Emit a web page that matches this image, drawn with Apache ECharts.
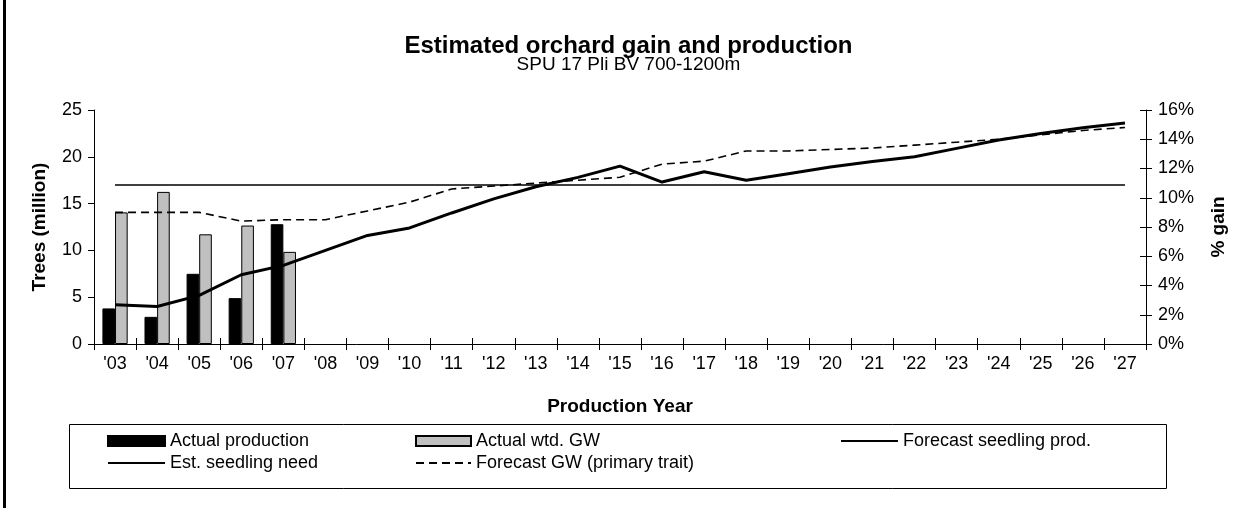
<!DOCTYPE html>
<html>
<head>
<meta charset="utf-8">
<title>Estimated orchard gain and production</title>
<script src="https://cdn.jsdelivr.net/npm/echarts@6/dist/echarts.min.js"></script>
<style>
  html, body { margin: 0; padding: 0; background: #fff; }
  #chart { width: 1257px; height: 508px; }
</style>
</head>
<body>
<div id="chart"></div>
<script>
// data
const years = ["'03", "'04", "'05", "'06", "'07", "'08", "'09", "'10", "'11", "'12", "'13", "'14", "'15",
  "'16", "'17", "'18", "'19", "'20", "'21", "'22", "'23", "'24", "'25", "'26", "'27"]
const actualProduction = [3.8, 2.9, 7.5, 4.9, 12.8]            // trees (million)
const actualGW = [9.0, 10.4, 7.5, 8.1, 6.3]                   // % gain
const forecastProd = [4.2, 4.0, 5.2, 7.4, 8.4, 10.0, 11.6, 12.4, 14.0, 15.5, 16.8, 17.8, 19.0,
  17.3, 18.4, 17.5, 18.2, 18.9, 19.5, 20.0, 20.9, 21.8, 22.5, 23.1, 23.6]
const seedlingNeed = [17, 17, 17, 17, 17, 17, 17, 17, 17, 17, 17, 17, 17,
  17, 17, 17, 17, 17, 17, 17, 17, 17, 17, 17, 17]
const forecastGW = [9.0, 9.0, 9.0, 8.4, 8.5, 8.5, 9.1, 9.7, 10.6, 10.8, 11.0, 11.2, 11.4,
  12.3, 12.5, 13.2, 13.2, 13.3, 13.4, 13.6, 13.8, 14.0, 14.3, 14.6, 14.8]
const leftTicks = { min: 0, max: 25, interval: 5 }
const rightTicks = { min: 0, max: 16, interval: 2 }

const FONT = '"Liberation Sans", Arial, sans-serif'
const INK = '#000'

const axisLine = { lineStyle: { color: INK, width: 1 } }
const tick = { show: true, length: 6, lineStyle: { color: INK } }
const label = { color: INK, fontSize: 18, fontFamily: FONT }
const nameStyle = { color: INK, fontSize: 19, fontWeight: 'bold', fontFamily: FONT }
const legendText = { color: INK, fontSize: 18, fontFamily: FONT }
const legendBase = { top: 432, orient: 'vertical', padding: 0, itemGap: 4, itemHeight: 10, textStyle: legendText }
// line entries: keep the stroke, hide the marker dot the legend adds
const lineEntry = (name) => ({ name, itemStyle: { opacity: 0 } })
// bare axis that only adds the inner half of the crossing tick marks
const innerTicks = { axisLine: { show: false }, axisLabel: { show: false }, splitLine: { show: false },
  axisTick: { ...tick, inside: true } }

const chart = echarts.init(document.getElementById('chart'), null, { renderer: 'canvas' })

chart.setOption({
  animation: false,
  backgroundColor: '#fff',
  title: [
    { text: 'Estimated orchard gain and production', left: 'center', top: 34, padding: 0,
      textStyle: { color: INK, fontSize: 24, fontWeight: 'bold', fontFamily: FONT } },
    { text: 'SPU 17 Pli BV 700-1200m', left: 'center', top: 55, padding: 0,
      textStyle: { color: INK, fontSize: 19, fontWeight: 'normal', fontFamily: FONT } },
  ],
  graphic: [
    // frame edge on the left and the legend box
    { type: 'rect', shape: { x: 3, y: 0, width: 3, height: 508 }, style: { fill: INK }, silent: true },
    { type: 'rect', shape: { x: 69.5, y: 424.5, width: 1097, height: 64 },
      style: { fill: 'none', stroke: INK, lineWidth: 1 }, silent: true, z: -1 },
  ],
  legend: [
    { ...legendBase, left: 107, itemWidth: 57,
      data: [{ name: 'Actual production', icon: 'rect' }, lineEntry('Est. seedling need')] },
    { ...legendBase, left: 415, itemWidth: 55,
      data: [{ name: 'Actual wtd. GW', icon: 'rect' }, lineEntry('Forecast GW (primary trait)')] },
    { ...legendBase, left: 840, itemWidth: 57,
      data: [lineEntry('Forecast seedling prod.')] },
  ],
  grid: { left: 94, right: 111, top: 110, bottom: 164, containLabel: false },
  xAxis: [
    {
      type: 'category',
      data: years,
      name: 'Production Year',
      nameLocation: 'middle',
      nameGap: 53,
      nameTextStyle: nameStyle,
      axisLine,
      axisTick: tick,
      axisLabel: { ...label, margin: 11, interval: 0 },
      splitLine: { show: false },
    },
    { type: 'category', data: years, position: 'bottom', ...innerTicks },
  ],
  yAxis: [
    {
      type: 'value', ...leftTicks,
      name: 'Trees (million)',
      nameLocation: 'middle',
      nameRotate: 90,
      nameGap: 45,
      nameTextStyle: nameStyle,
      axisLine: { show: true, ...axisLine },
      axisTick: tick,
      axisLabel: { ...label, margin: 12 },
      splitLine: { show: false },
    },
    {
      type: 'value', ...rightTicks,
      position: 'right',
      name: '% gain',
      nameLocation: 'middle',
      nameRotate: 90,
      nameGap: 63,
      nameTextStyle: nameStyle,
      axisLine: { show: true, ...axisLine },
      axisTick: tick,
      axisLabel: { ...label, margin: 12, formatter: '{value}%' },
      splitLine: { show: false },
    },
    { type: 'value', ...rightTicks, position: 'right', ...innerTicks },
  ],
  series: [
    {
      name: 'Actual production', type: 'bar', yAxisIndex: 0,
      data: actualProduction,
      barWidth: '30%', barGap: '0%',
      itemStyle: { color: '#000', borderColor: INK, borderWidth: 1 },
    },
    {
      name: 'Actual wtd. GW', type: 'bar', yAxisIndex: 1,
      data: actualGW,
      barWidth: '30%', barGap: '0%',
      itemStyle: { color: '#c0c0c0', borderColor: INK, borderWidth: 1 },
    },
    {
      name: 'Forecast seedling prod.', type: 'line', yAxisIndex: 0,
      data: forecastProd,
      symbol: 'none', showSymbol: false,
      lineStyle: { color: INK, width: 3 },
      itemStyle: { color: INK },
      z: 4,
    },
    {
      name: 'Est. seedling need', type: 'line', yAxisIndex: 0,
      data: seedlingNeed,
      symbol: 'none', showSymbol: false,
      lineStyle: { color: INK, width: 1.5 },
      itemStyle: { color: INK },
      z: 3,
    },
    {
      name: 'Forecast GW (primary trait)', type: 'line', yAxisIndex: 1,
      data: forecastGW,
      symbol: 'none', showSymbol: false,
      lineStyle: { color: INK, width: 1.6, type: [8, 5] },
      itemStyle: { color: INK },
      z: 3,
    },
  ],
})
</script>
</body>
</html>
